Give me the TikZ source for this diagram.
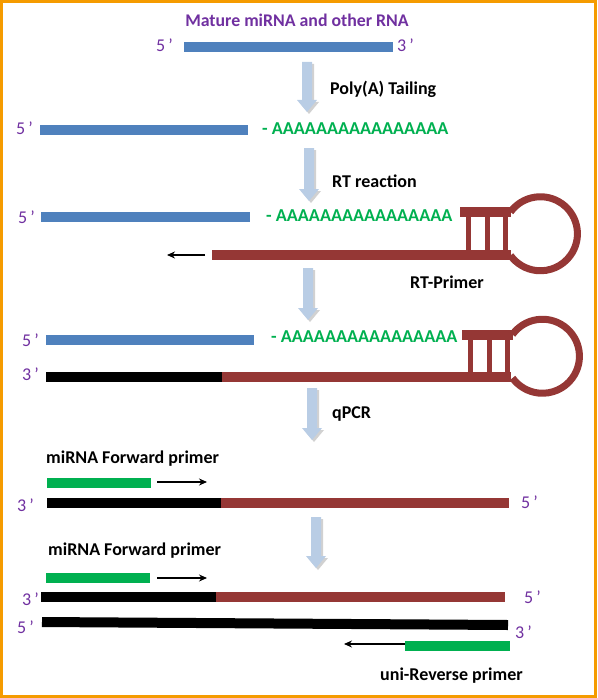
\documentclass[tikz,border=0pt]{standalone}
\usepackage{fontspec}
\setmainfont{Carlito}
\usetikzlibrary{arrows.meta, shadows}

\definecolor{rnablue}{HTML}{4F81BD}
\definecolor{primbrown}{HTML}{953735}
\definecolor{tailgreen}{HTML}{00B050}
\definecolor{endpurple}{HTML}{7030A0}
\definecolor{steplight}{HTML}{B9CDE5}
\definecolor{frameorange}{HTML}{F59B00}

\begin{document}
\begin{tikzpicture}[
  x=1pt, y=-1pt,
  >={Stealth[length=8pt, width=7pt]},
  every node/.style={inner sep=0pt},
  title/.style={anchor=base, text=endpurple,
                font=\fontsize{17.8}{20}\selectfont\bfseries},
  lbl/.style={anchor=base west, font=\fontsize{18}{20}\selectfont\bfseries},
  endlbl/.style={anchor=base west, text=endpurple,
                 font=\fontsize{18}{20}\selectfont},
  polya/.style={anchor=base west, text=tailgreen,
                font=\fontsize{18.2}{20}\selectfont\bfseries},
  strand/.style={line width=10pt},
  rna/.style={strand, draw=rnablue},
  prim/.style={strand, draw=primbrown},
  cdna/.style={strand, draw=black},
  fwd/.style={strand, draw=tailgreen},
  steparrow/.style={fill=steplight,
                    drop shadow={shadow xshift=2pt, shadow yshift=-2pt,
                                 opacity=0.3, fill=black!60}},
  primarrow/.style={->, line width=1.1pt}
]

%--- Frame ---
\useasboundingbox (0,0) rectangle (597,698);
\draw[line width=3pt, frameorange] (1.5,1.5) rectangle (595.5,696.5);

%--- Step arrows between rows ---
\foreach \ax/\ay/\by in {307/62/112, 309/148/201, 308/268/320,
                         312/388/440, 316/517/568}
  \fill[steparrow] (\ax-5,\ay) -- (\ax+5,\ay) -- (\ax+5,\by-12)
    -- (\ax+10,\by-12) -- (\ax,\by) -- (\ax-10,\by-12)
    -- (\ax-5,\by-12) -- cycle;

%--- Row 1: mature RNA ---
\node[title]  (mature) at (297,27) {Mature miRNA and other RNA};
\node[endlbl] (r1five)  at (156,52) {5\,’};
\draw[rna] (184,47) -- (393,47);
\node[endlbl] (r1three) at (397,52) {3\,’};
\node[lbl]    (tailing) at (330,95) {Poly(A) Tailing};

%--- Row 2: tailed RNA ---
\node[endlbl] (r2five) at (16,135) {5\,’};
\draw[rna] (40,130) -- (248,130);
\node[polya]  (r2tail) at (262,134) {- AAAAAAAAAAAAAAAA};
\node[lbl]    (rtreact) at (332,187) {RT reaction};

%--- Row 3: RT primer annealed ---
\node[endlbl] (r3five) at (18,223) {5\,’};
\draw[rna] (41,217) -- (250,217);
\node[polya]  (r3tail) at (266,221) {- AAAAAAAAAAAAAAAA};
\draw[prim] (212,255) -- (511,255);
\coordinate (rtstart) at (205,255);
\coordinate (rtend)   at (167,255);
\draw[primarrow] (rtstart) -- (rtend);
\node[lbl]    (rtprimer) at (410,288) {RT-Primer};

%--- Row 4: cDNA ---
\node[endlbl] (r4five) at (22,346) {5\,’};
\draw[rna] (46,340) -- (254,340);
\node[polya]  (r4tail) at (271,342) {- AAAAAAAAAAAAAAAA};
\node[endlbl] (r4three) at (22,380) {3\,’};
\draw[cdna] (46,377) -- (222,377);
\draw[prim] (222,377) -- (511,377);
\node[lbl]    (qpcr) at (332,418) {qPCR};

%--- Stem-loops of the RT primer ---
\foreach \cx/\cy in {540/233.5, 542/356} {
  \draw[prim] (\cx-80,\cy-21.5) -- (\cx-29.5,\cy-21.5);
  \draw[primbrown, line width=7pt] (\cx-29.5,\cy-21.5)
    arc[start angle=-144, end angle=144, radius=37];
  \foreach \rx in {-72,-53,-35}
    \draw[primbrown, line width=5pt] (\cx+\rx,\cy-17) -- (\cx+\rx,\cy+17);
}

%--- Row 5: first qPCR template ---
\node[lbl]    (fwdone) at (46,463) {miRNA Forward primer};
\draw[fwd] (47,483) -- (151,483);
\coordinate (fonestart) at (157,482);
\coordinate (foneend)   at (207,482);
\draw[primarrow] (fonestart) -- (foneend);
\node[endlbl] (r5three) at (17,511) {3\,’};
\draw[cdna] (47,503) -- (221,503);
\draw[prim] (221,503) -- (509,503);
\node[endlbl] (r5five) at (521,508) {5\,’};

%--- Row 6: double strand with both primers ---
\node[lbl]    (fwdtwo) at (48,555) {miRNA Forward primer};
\draw[fwd] (46,578) -- (150,578);
\coordinate (ftwostart) at (157,578);
\coordinate (ftwoend)   at (207,578);
\draw[primarrow] (ftwostart) -- (ftwoend);
\node[endlbl] (r6three) at (22,605) {3\,’};
\draw[cdna] (41,596.5) -- (216,596.5);
\draw[prim] (216,596.5) -- (505,596.5);
\node[endlbl] (r6five) at (524,603) {5\,’};
\node[endlbl] (r7five) at (17,633) {5\,’};
\draw[cdna] (42,622) -- (508,625);
\node[endlbl] (r7three) at (515,638) {3\,’};
\draw[fwd] (405,645.5) -- (510,645.5);
\coordinate (revstart) at (405,644);
\coordinate (revend)   at (344,644);
\draw[primarrow] (revstart) -- (revend);
\node[lbl]    (revprimer) at (380,680) {uni-Reverse primer};

\end{tikzpicture}
\end{document}
